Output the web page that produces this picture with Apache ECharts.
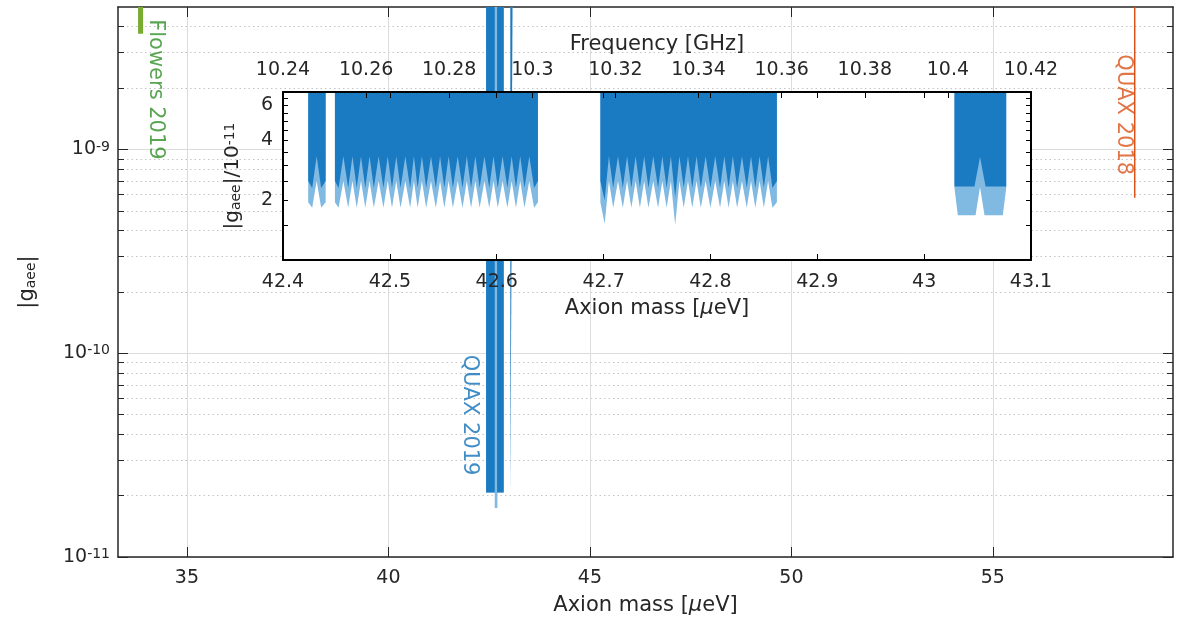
<!DOCTYPE html>
<html>
<head>
<meta charset="utf-8">
<script src="https://cdn.jsdelivr.net/npm/echarts@6/dist/echarts.min.js"></script>
<style>html,body{margin:0;padding:0;background:#fff}#c{width:1189px;height:618px}</style>
</head>
<body>
<div id="c"></div>
<script>
// ---------------- main plot: axis ticks ----------------
const mainXRange = [33.29, 59.47];
const mainYRange = [1e-11, 5e-9];
const mainXTicks = [35, 40, 45, 50, 55];
const mainYMajor = [1e-11, 1e-10, 1e-9];
const mainYMinor = [2e-11, 3e-11, 4e-11, 5e-11, 6e-11, 7e-11, 8e-11, 9e-11,
                    2e-10, 3e-10, 4e-10, 5e-10, 6e-10, 7e-10, 8e-10, 9e-10,
                    2e-9, 3e-9, 4e-9];

// ---------------- main plot: data ----------------
const flowersMass = [33.85, 33.85];
const flowersG = [3.7e-9, 5.0e-9];
const quax2018Mass = [58.52, 58.52];
const quax2018G = [5.8e-10, 5.0e-9];
// QUAX 2019 as seen on the wide plot: bands [start mass, end mass, lower |g|]
const q19LightStart = [42.424, 42.639, 43.028];
const q19LightEnd = [42.862, 42.705, 43.077];
const q19LightLow = [2.07e-11, 1.74e-11, 1.95e-11];
const q19DarkStart = [42.424, 42.697, 43.028];
const q19DarkEnd = [42.639, 42.862, 43.077];
const q19DarkLow = [2.07e-11, 2.07e-11, 1.95e-11];

// annotation anchors [mass, |g|]
const labelFlowers = [34.23, 1.97e-9];
const labelQuax2018 = [58.23, 1.48e-9];
const labelQuax2019 = [42.02, 4.97e-11];

// ---------------- inset: axis ticks ----------------
const insetXRange = [42.4, 43.1];
const insetFreqRange = [10.24, 10.42];
const insetYRange = [1, 7];
const insetYTicks = [1.5, 2, 2.5, 3, 3.5, 4, 4.5, 5, 5.5, 6, 6.5];
const insetYLabels = [2, 4, 6];

// ---------------- inset: data (|g_aee| in units of 1e-11) ----------------
const segStart = [42.4236, 42.4486, 42.6970];
const segEnd = [42.4399, 42.6386, 42.8622];
const segACenters = [42.4273, 42.4357];
const segBCenters = [42.452, 42.461, 42.469, 42.477, 42.485, 42.494, 42.502, 42.510,
                     42.519, 42.526, 42.534, 42.543, 42.551, 42.559, 42.568, 42.576,
                     42.584, 42.593, 42.601, 42.610, 42.618, 42.626, 42.635];
const segCCenters = [42.701, 42.709, 42.718, 42.726, 42.734, 42.742, 42.751, 42.759,
                     42.767, 42.775, 42.783, 42.791, 42.800, 42.809, 42.817, 42.825,
                     42.834, 42.842, 42.850, 42.858];
const segADark = [2.3, 2.3];
const segALight = [1.83, 1.83];
const segBDark = [2.3, 2.3, 2.3, 2.3, 2.3, 2.3, 2.3, 2.3, 2.3, 2.3, 2.3, 2.3,
                  2.3, 2.3, 2.3, 2.3, 2.3, 2.3, 2.3, 2.3, 2.3, 2.3, 2.3];
const segBLight = [1.83, 1.83, 1.83, 1.83, 1.83, 1.83, 1.83, 1.83, 1.83, 1.83, 1.83, 1.83,
                   1.83, 1.83, 1.83, 1.83, 1.83, 1.83, 1.83, 1.83, 1.83, 1.83, 1.83];
const segCDark = [2.0, 2.3, 2.3, 2.3, 2.3, 2.3, 2.3, 2.3, 2.07, 2.3,
                  2.3, 2.3, 2.3, 2.3, 2.3, 2.3, 2.3, 2.3, 2.3, 2.3];
const segCLight = [1.52, 1.83, 1.83, 1.83, 1.83, 1.83, 1.83, 1.83, 1.5, 1.83,
                   1.83, 1.83, 1.83, 1.83, 1.83, 1.83, 1.83, 1.83, 1.83, 1.83];
const cuspDark = 3.33, cuspLight = 2.5;
const edgeDark = 2.5, edgeLight = 1.95;
const segDDarkMass = [43.0284, 43.0471, 43.0523, 43.0575, 43.0768];
const segDDarkG = [2.34, 2.34, 3.30, 2.34, 2.34];
const segDLightMass = [43.0284, 43.0315, 43.0481, 43.0523, 43.0565, 43.0736, 43.0768];
const segDLightG = [2.30, 1.68, 1.68, 2.33, 1.68, 1.68, 2.30];

// ---------------- styling ----------------
const FONT = "'DejaVu Sans', sans-serif";
const TXT = '#262626';
const AX = '#262626';
const DARK = '#1b7bc2';
const LIGHT = '#80b9e1';
const TICK_FS = 19;
const TITLE_FS = 21;

function zip(a, b) { return a.map((v, i) => [v, b[i]]); }
function zigzag(start, end, centers, mins, cusp, edge) {
  const pts = [[start, edge]];
  centers.forEach((c, i) => {
    pts.push([c, mins[i]]);
    if (i < centers.length - 1) pts.push([(c + centers[i + 1]) / 2, cusp]);
  });
  pts.push([end, edge]);
  return pts;
}
function areaSeries(data, color, xi, yi, z) {
  return {
    type: 'line', xAxisIndex: xi, yAxisIndex: yi, data: data, symbol: 'none', showSymbol: false,
    lineStyle: { width: 0, opacity: 0 }, areaStyle: { origin: 'end', color: color, opacity: 1 },
    z: z, silent: true, animation: false
  };
}
function textSeries(pos, text, color) {
  return {
    type: 'scatter', xAxisIndex: 0, yAxisIndex: 0, data: [pos], symbolSize: 0, z: 2, silent: true,
    label: { show: true, formatter: text, position: 'inside', rotate: -90,
             color: color, fontSize: TITLE_FS, fontFamily: FONT }
  };
}

const series = [];
// main plot QUAX 2019
q19LightStart.forEach((s, i) => series.push(areaSeries([[s, q19LightLow[i]], [q19LightEnd[i], q19LightLow[i]]], LIGHT, 0, 0, 1)));
q19DarkStart.forEach((s, i) => series.push(areaSeries([[s, q19DarkLow[i]], [q19DarkEnd[i], q19DarkLow[i]]], DARK, 0, 0, 1)));
// Flowers 2019 and QUAX 2018
series.push({ type: 'line', xAxisIndex: 0, yAxisIndex: 0, data: zip(flowersMass, flowersG), symbol: 'none',
  lineStyle: { color: '#77ac30', width: 5, cap: 'butt' }, z: 1, silent: true });
series.push({ type: 'line', xAxisIndex: 0, yAxisIndex: 0, data: zip(quax2018Mass, quax2018G), symbol: 'none',
  lineStyle: { color: '#d95319', width: 1.5 }, z: 1, silent: true });
series.push(textSeries(labelFlowers, 'Flowers 2019', '#2f8f27'));
series.push(textSeries(labelQuax2018, 'QUAX 2018', '#d95319'));
series.push(textSeries(labelQuax2019, 'QUAX 2019', '#1170b8'));

// inset
const lightSegs = [
  zigzag(segStart[0], segEnd[0], segACenters, segALight, cuspLight, edgeLight),
  zigzag(segStart[1], segEnd[1], segBCenters, segBLight, cuspLight, edgeLight),
  zigzag(segStart[2], segEnd[2], segCCenters, segCLight, cuspLight, edgeLight),
  zip(segDLightMass, segDLightG)
];
const darkSegs = [
  zigzag(segStart[0], segEnd[0], segACenters, segADark, cuspDark, edgeDark),
  zigzag(segStart[1], segEnd[1], segBCenters, segBDark, cuspDark, edgeDark),
  zigzag(segStart[2], segEnd[2], segCCenters, segCDark, cuspDark, edgeDark),
  zip(segDDarkMass, segDDarkG)
];
lightSegs.forEach(d => series.push(areaSeries(d, LIGHT, 2, 4, 4)));
darkSegs.forEach(d => series.push(areaSeries(d, DARK, 2, 4, 4)));

const tickLbl = { fontSize: TICK_FS, fontFamily: FONT, color: TXT };
const supRich = {
  b: { fontSize: TICK_FS, fontFamily: FONT, color: TXT, lineHeight: 19, padding: [4, 0, 0, 0], verticalAlign: 'bottom' },
  s: { fontSize: 14, fontFamily: FONT, color: TXT, lineHeight: 14, verticalAlign: 'top' }
};
const massNameRich = {
  t: { fontSize: TITLE_FS, fontFamily: FONT, color: TXT },
  m: { fontSize: TITLE_FS, fontFamily: FONT, color: TXT, fontStyle: 'italic' }
};
const massName = '{t|Axion mass [}{m|μ}{t|eV]}';

const chart = echarts.init(document.getElementById('c'), null, { renderer: 'canvas' });
chart.setOption({
  animation: false,
  backgroundColor: '#fff',
  grid: [
    { left: 118, top: 7, width: 1055, height: 550, containLabel: false, outerBoundsMode: 'none', z: 0 },
    { left: 283, top: 92, width: 748, height: 168, containLabel: false, outerBoundsMode: 'none',
      show: true, backgroundColor: '#fff', borderWidth: 0, z: 3 }
  ],
  xAxis: [
    { type: 'value', gridIndex: 0, position: 'bottom', min: mainXRange[0], max: mainXRange[1],
      axisLine: { show: true, onZero: false, lineStyle: { color: AX, width: 1.5 } },
      axisTick: { show: true, inside: true, length: 10, customValues: mainXTicks, lineStyle: { color: AX } },
      axisLabel: Object.assign({ customValues: mainXTicks, margin: 12 }, tickLbl),
      splitLine: { show: true, lineStyle: { color: '#dcdcdc', width: 1 } },
      name: massName, nameLocation: 'middle', nameGap: 38, nameTextStyle: { rich: massNameRich } },
    { type: 'value', gridIndex: 0, position: 'top', min: mainXRange[0], max: mainXRange[1],
      axisLine: { show: true, onZero: false, lineStyle: { color: AX, width: 1.5 } },
      axisTick: { show: true, inside: true, length: 10, customValues: mainXTicks, lineStyle: { color: AX } },
      axisLabel: { show: false }, splitLine: { show: false } },
    { type: 'value', gridIndex: 1, position: 'bottom', min: insetXRange[0], max: insetXRange[1], interval: 0.1, z: 5,
      axisLine: { show: true, onZero: false, lineStyle: { color: '#000', width: 2 } },
      axisTick: { show: true, inside: true, length: 6, lineStyle: { color: '#000' } },
      axisLabel: Object.assign({ margin: 13 }, tickLbl), splitLine: { show: false },
      name: massName, nameLocation: 'middle', nameGap: 38, nameTextStyle: { rich: massNameRich } },
    { type: 'value', gridIndex: 1, position: 'top', min: insetFreqRange[0], max: insetFreqRange[1], interval: 0.02, z: 5,
      axisLine: { show: true, onZero: false, lineStyle: { color: '#000', width: 2 } },
      axisTick: { show: true, inside: true, length: 6, lineStyle: { color: '#000' } },
      axisLabel: Object.assign({ margin: 12 }, tickLbl), splitLine: { show: false },
      name: 'Frequency [GHz]', nameLocation: 'middle', nameGap: 37,
      nameTextStyle: { fontSize: TITLE_FS, fontFamily: FONT, color: TXT } },
    { type: 'value', gridIndex: 1, position: 'top', min: insetXRange[0], max: insetXRange[1], interval: 0.1, z: 5,
      axisLine: { show: false },
      axisTick: { show: true, inside: true, length: 6, lineStyle: { color: '#000' } },
      axisLabel: { show: false }, splitLine: { show: false } }
  ],
  yAxis: [
    { type: 'log', logBase: 10, gridIndex: 0, position: 'left', min: mainYRange[0], max: mainYRange[1],
      axisLine: { show: true, onZero: false, lineStyle: { color: AX, width: 1.5 } },
      axisTick: { show: true, inside: true, length: 10, customValues: mainYMajor, lineStyle: { color: AX } },
      axisLabel: { customValues: mainYMajor, margin: 8,
        formatter: v => '{b|10}{s|' + Math.round(Math.log10(v)) + '}', rich: supRich },
      splitLine: { show: true, lineStyle: { color: '#dcdcdc', width: 1 } },
      name: '{t||g}{sub|aee}{t||}', nameLocation: 'middle', nameGap: 80, nameRotate: 90,
      nameTextStyle: { rich: {
        t: { fontSize: TITLE_FS, fontFamily: FONT, color: TXT, lineHeight: 21, padding: [0, 0, 7, 0], verticalAlign: 'top' },
        sub: { fontSize: 14, fontFamily: FONT, color: TXT, lineHeight: 14, verticalAlign: 'bottom' } } } },
    { type: 'log', logBase: 10, gridIndex: 0, position: 'left', min: mainYRange[0], max: mainYRange[1],
      axisLine: { show: false },
      axisTick: { show: true, inside: true, length: 6, customValues: mainYMinor, lineStyle: { color: AX } },
      axisLabel: { show: false },
      splitLine: { show: true, lineStyle: { color: '#c4c4c4', width: 1, type: [1.5, 3] } } },
    { type: 'log', logBase: 10, gridIndex: 0, position: 'right', min: mainYRange[0], max: mainYRange[1],
      axisLine: { show: true, onZero: false, lineStyle: { color: AX, width: 1.5 } },
      axisTick: { show: true, inside: true, length: 10, customValues: mainYMajor, lineStyle: { color: AX } },
      axisLabel: { show: false }, splitLine: { show: false } },
    { type: 'log', logBase: 10, gridIndex: 0, position: 'right', min: mainYRange[0], max: mainYRange[1],
      axisLine: { show: false },
      axisTick: { show: true, inside: true, length: 6, customValues: mainYMinor, lineStyle: { color: AX } },
      axisLabel: { show: false }, splitLine: { show: false } },
    { type: 'log', logBase: 10, gridIndex: 1, position: 'left', min: insetYRange[0], max: insetYRange[1], z: 5,
      axisLine: { show: true, onZero: false, lineStyle: { color: '#000', width: 2 } },
      axisTick: { show: true, inside: true, length: 5, customValues: insetYTicks, lineStyle: { color: '#000' } },
      axisLabel: Object.assign({ customValues: insetYLabels, margin: 10 }, tickLbl),
      splitLine: { show: false },
      name: '{t||g}{sub|aee}{t||/10}{sup|-11}', nameLocation: 'middle', nameGap: 36, nameRotate: 90,
      nameTextStyle: { rich: {
        t: { fontSize: 20, fontFamily: FONT, color: TXT, lineHeight: 20, padding: [7, 0, 7, 0], verticalAlign: 'middle' },
        sub: { fontSize: 14, fontFamily: FONT, color: TXT, lineHeight: 14, verticalAlign: 'bottom' },
        sup: { fontSize: 14, fontFamily: FONT, color: TXT, lineHeight: 14, verticalAlign: 'top' } } } },
    { type: 'log', logBase: 10, gridIndex: 1, position: 'right', min: insetYRange[0], max: insetYRange[1], z: 5,
      axisLine: { show: true, onZero: false, lineStyle: { color: '#000', width: 2 } },
      axisTick: { show: true, inside: true, length: 5, customValues: insetYTicks, lineStyle: { color: '#000' } },
      axisLabel: { show: false }, splitLine: { show: false } }
  ],
  series: series
});
</script>
</body>
</html>
